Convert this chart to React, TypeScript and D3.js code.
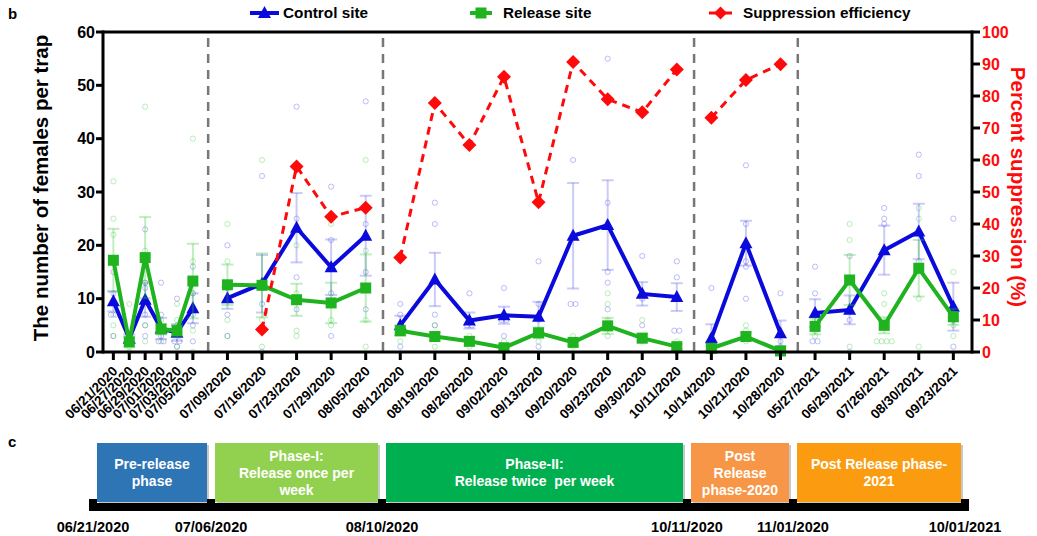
import React from "react";
import * as d3 from "d3";

// ---------- data ----------
const categories = [
  "06/21/2020", "06/27/2020", "06/29/2020", "07/01/2020", "07/03/2020", "07/05/2020",
  "07/09/2020", "07/16/2020", "07/23/2020", "07/29/2020", "08/05/2020",
  "08/12/2020", "08/19/2020", "08/26/2020", "09/02/2020", "09/13/2020", "09/20/2020",
  "09/23/2020", "09/30/2020", "10/11/2020",
  "10/14/2020", "10/21/2020", "10/28/2020",
  "05/27/2021", "06/29/2021", "07/26/2021", "08/30/2021", "09/23/2021",
];
// phase of each sampling date (0 pre-release, 1 phase-I, 2 phase-II, 3 post-2020, 4 post-2021)
const phaseOf = [0, 0, 0, 0, 0, 0, 1, 1, 1, 1, 1, 2, 2, 2, 2, 2, 2, 2, 2, 2, 3, 3, 3, 4, 4, 4, 4, 4];

const controlMean = [9.5, 2.5, 9.8, 4.4, 3.6, 8.2, 10.1, 12.8, 23.3, 15.9, 21.8, 5.0, 13.6, 5.9, 6.9, 6.6, 21.8, 23.8, 10.9, 10.3, 2.6, 20.4, 3.5, 7.3, 7.9, 19.1, 22.6, 8.5];
const controlSem = [1.9, 0.8, 3.2, 2.0, 1.5, 2.8, 2.0, 5.4, 6.5, 5.2, 7.5, 1.8, 5.0, 1.5, 1.6, 2.8, 9.9, 8.4, 2.2, 2.6, 2.6, 4.2, 2.4, 2.6, 2.7, 4.6, 5.2, 4.5];
const releaseMean = [17.2, 1.9, 17.7, 4.3, 4.0, 13.3, 12.6, 12.5, 9.8, 9.2, 12.0, 4.0, 2.9, 2.0, 0.8, 3.6, 1.8, 4.9, 2.6, 1.0, 0.7, 2.9, 0.2, 4.8, 13.5, 5.0, 15.7, 6.6];
const releaseSem = [5.9, 1.0, 7.6, 1.0, 1.2, 7.0, 3.8, 6.0, 3.0, 3.8, 6.3, 1.0, 0.8, 0.8, 0.5, 1.0, 0.6, 1.5, 0.8, 0.5, 0.4, 0.8, 0.2, 1.5, 4.7, 1.5, 5.3, 1.5];
const suppression: (number | null)[] = [
  null, null, null, null, null, null, null,
  7, 58, 42.3, 45.1,
  29.5, 77.8, 64.7, 86, 46.8, 90.6, 79, 74.9, 88.3,
  73.2, 85, 89.9,
  null, null, null, null, null,
];

const controlPoints = [
  [15, 11, 7, 7, 3], [3, 2, 2], [23, 13, 12, 7, 5, 3], [13, 7, 3, 2, 2], [10, 5, 2, 2, 1], [16, 11, 7, 5, 2],
  [20, 12, 7, 3], [33, 13, 9, 0], [46, 25, 14, 8], [31, 21, 11, 3], [47, 24, 15, 8],
  [9, 7, 1], [28, 24, 7, 5], [11, 5, 5], [12, 6, 6, 3], [17, 9, 1], [36, 9, 9], [55, 28, 15, 13, 8], [18, 10, 5], [17, 14, 4, 4],
  [12, 2, 1], [35, 24, 17, 16, 10], [11, 2],
  [16, 11, 2, 2], [18, 6, 0], [27, 25, 24], [37, 33, 17], [25, 6, 1],
];
const releasePoints = [
  [32, 25, 22, 7, 5, 3], [9, 1, 0], [46, 19, 13, 5, 2], [6, 4, 2], [9, 6, 1], [40, 17, 11, 4, 0],
  [24, 17, 6, 3], [36, 12, 6, 1], [20, 11, 4, 3], [24, 6, 5], [36, 19, 6, 1],
  [5, 4, 2], [5, 3, 1], [3, 2, 1], [2, 1, 0], [6, 4, 2], [3, 2, 1], [11, 9, 6, 3], [6, 3, 2], [2, 1, 0],
  [3, 1, 0], [5, 4, 2], [1, 0],
  [6, 4, 3], [24, 21, 13, 1], [11, 9, 2, 2, 2, 2], [27, 25, 10, 1], [15, 5, 3],
];

const leftTicks = [0, 10, 20, 30, 40, 50, 60];
const rightTicks = [0, 10, 20, 30, 40, 50, 60, 70, 80, 90, 100];

const timelineDates = ["06/21/2020", "07/06/2020", "08/10/2020", "10/11/2020", "11/01/2020", "10/01/2021"];
const phaseLabels = [
  ["Pre-release", "phase"],
  ["Phase-I:", "Release once per", "week"],
  ["Phase-II:", "Release twice  per week"],
  ["Post", "Release", "phase-2020"],
  ["Post Release phase-", "2021"],
];
const phaseColors = ["#2e75b6", "#92d050", "#00b050", "#f79646", "#fb9b10"];

// ---------- layout ----------
const W = 1037, H = 536;
const PL = 103, PR = 972, PT = 32, PB = 352;
const FONT = "'Liberation Sans', Arial, Helvetica, sans-serif";
const BLUE = "#0a0adc", GREEN = "#1fb41f", RED = "#ff0a0a";

// compressed slot for the dense pre-release sampling
const slot = (i: number) => (i < 6 ? i * 0.46 : 2.3 + (i - 5));

const x = d3.scaleLinear().domain([-0.3, 24.84]).range([PL, PR]);
const yL = d3.scaleLinear().domain([0, 60]).range([PB, PT]);
const yR = d3.scaleLinear().domain([0, 100]).range([PB, PT]);
const tl = d3.scaleLinear().domain([0, 1, 2, 3, 4, 5]).range([93, 211, 382, 687, 793, 965]);

const phases = [0, 1, 2, 3, 4];

function spread(vals: number[]) {
  const counts = new Map<number, number>();
  vals.forEach((v) => counts.set(v, (counts.get(v) || 0) + 1));
  const seen = new Map<number, number>();
  return vals.map((v) => {
    const n = counts.get(v)!;
    const k = seen.get(v) || 0;
    seen.set(v, k + 1);
    return { v, dx: (k - (n - 1) / 2) * 5 };
  });
}

function Series({ mean, sem, color, errColor, marker }: any) {
  const line = d3.line<number>().x((i) => x(slot(i))).y((i) => yL(mean[i]));
  return (
    <g>
      {categories.map((_, i) => {
        const cx = x(slot(i));
        const top = yL(mean[i] + sem[i]);
        const bot = yL(Math.max(0, mean[i] - sem[i]));
        return (
          <g key={"e" + i} stroke={errColor} strokeWidth={2} fill="none">
            <line x1={cx} x2={cx} y1={top} y2={bot} />
            <line x1={cx - 6} x2={cx + 6} y1={top} y2={top} />
            <line x1={cx - 6} x2={cx + 6} y1={bot} y2={bot} />
          </g>
        );
      })}
      {phases.map((p) => {
        const idx = categories.map((_, i) => i).filter((i) => phaseOf[i] === p);
        return <path key={"l" + p} d={line(idx) || ""} fill="none" stroke={color} strokeWidth={4} strokeLinejoin="miter" />;
      })}
      {categories.map((_, i) => {
        const cx = x(slot(i));
        const cy = yL(mean[i]);
        if (marker === "tri")
          return <path key={"m" + i} d={`M${cx},${cy - 7}L${cx + 6.5},${cy + 5}L${cx - 6.5},${cy + 5}Z`} fill={color} />;
        return <rect key={"m" + i} x={cx - 5.5} y={cy - 5.5} width={11} height={11} fill={color} />;
      })}
    </g>
  );
}

function Points({ data, color }: any) {
  return (
    <g fill="none" stroke={color} strokeWidth={1}>
      {data.map((vals: number[], i: number) =>
        spread(vals).map((p, k) => (
          <circle key={i + "-" + k} cx={x(slot(i)) + p.dx} cy={yL(p.v)} r={2.6} />
        ))
      )}
    </g>
  );
}

export default function App() {
  const sepX = [0, 1, 2, 3].map((p) => {
    const last = phaseOf.lastIndexOf(p);
    return x((slot(last) + slot(last + 1)) / 2);
  });
  const redLine = d3
    .line<number>()
    .x((i) => x(slot(i)))
    .y((i) => yR(suppression[i] as number));

  return (
    <svg width={W} height={H} style={{ position: "absolute", left: 0, top: 0, background: "#fff" }} fontFamily={FONT}>
      <text x={8} y={19} fontSize={15} fontWeight="bold">b</text>
      <text x={8} y={447} fontSize={15} fontWeight="bold">c</text>

      {/* legend */}
      <g fontSize={15.3} fontWeight="bold">
        <line x1={250} x2={279} y1={13} y2={13} stroke={BLUE} strokeWidth={4} />
        <path d="M264.5,6L271,18L258,18Z" fill={BLUE} />
        <text x={283} y={18}>Control site</text>
        <line x1={470} x2={492} y1={13} y2={13} stroke={GREEN} strokeWidth={4} />
        <rect x={475.5} y={7.5} width={11} height={11} fill={GREEN} />
        <text x={503} y={18}>Release site</text>
        <line x1={709} x2={732} y1={13} y2={13} stroke={RED} strokeWidth={3} />
        <path d="M720.5,6.5L727,13L720.5,19.5L714,13Z" fill={RED} />
        <text x={743} y={18}>Suppression efficiency</text>
      </g>

      {/* phase separators */}
      {sepX.map((sx, i) => (
        <line key={i} x1={i === 0 ? sx - 2 : sx} x2={i === 0 ? sx - 2 : sx} y1={38} y2={PB} stroke="#777" strokeWidth={2.5} strokeDasharray="9,7" />
      ))}

      <Points data={controlPoints} color="rgba(70,70,235,0.35)" />
      <Points data={releasePoints} color="rgba(40,200,40,0.32)" />

      <Series mean={controlMean} sem={controlSem} color={BLUE} errColor="rgba(70,70,230,0.28)" marker="tri" />
      <Series mean={releaseMean} sem={releaseSem} color={GREEN} errColor="rgba(40,200,40,0.3)" marker="sq" />

      {/* suppression */}
      {phases.map((p) => {
        const idx = categories.map((_, i) => i).filter((i) => phaseOf[i] === p && suppression[i] != null);
        if (idx.length < 1) return null;
        return <path key={p} d={redLine(idx) || ""} fill="none" stroke={RED} strokeWidth={3} strokeDasharray="8,6" />;
      })}
      {categories.map((_, i) => {
        const v = suppression[i];
        if (v == null) return null;
        const cx = x(slot(i)), cy = yR(v);
        return <path key={i} d={`M${cx},${cy - 7}L${cx + 7},${cy}L${cx},${cy + 7}L${cx - 7},${cy}Z`} fill={RED} />;
      })}

      {/* frame */}
      <g stroke="#000" strokeWidth={3} fill="none">
        <line x1={PL} x2={PR} y1={PT} y2={PT} />
        <line x1={PL} x2={PL} y1={PT - 1.5} y2={PB + 1.5} />
        <line x1={PR} x2={PR} y1={PT - 1.5} y2={PB + 1.5} />
        <line x1={PL} x2={PR} y1={PB} y2={PB} />
      </g>

      {/* left axis */}
      <g fontSize={16} fontWeight="bold">
        {leftTicks.map((t) => (
          <g key={t}>
            <line x1={PL - 7} x2={PL} y1={yL(t)} y2={yL(t)} stroke="#000" strokeWidth={3} />
            <text x={PL - 8} y={yL(t)} dy="0.36em" textAnchor="end">{t}</text>
          </g>
        ))}
      </g>
      {/* right axis */}
      <g fontSize={16} fontWeight="bold" fill={RED}>
        {rightTicks.map((t) => (
          <g key={t}>
            <line x1={PR} x2={PR + 8} y1={yR(t)} y2={yR(t)} stroke="#000" strokeWidth={3} />
            <text x={PR + 10} y={yR(t)} dy="0.36em">{t}</text>
          </g>
        ))}
      </g>
      {/* x axis */}
      <g fontSize={13.5} fontWeight="bold">
        {categories.map((c, i) => {
          const cx = x(slot(i));
          return (
            <g key={c + i}>
              <line x1={cx} x2={cx} y1={PB} y2={PB + 8} stroke="#000" strokeWidth={3} />
              <text transform={`translate(${cx + 5},${PB + 20}) rotate(-45)`} textAnchor="end">{c}</text>
            </g>
          );
        })}
      </g>

      <text transform={`translate(48,188) rotate(-90)`} textAnchor="middle" fontSize={20.5} fontWeight="bold">
        The number of females per trap
      </text>
      <text transform={`translate(1011,187) rotate(90)`} textAnchor="middle" fontSize={20.5} fontWeight="bold" fill={RED}>
        Percent suppression (%)
      </text>

      {/* timeline panel c */}
      {phaseLabels.map((lines, i) => {
        const x0 = tl(i) + 4, x1 = tl(i + 1) - 4;
        const cx = (x0 + x1) / 2;
        return (
          <g key={i}>
            <rect x={x0 + 2} y={445} width={x1 - x0} height={59} fill="#c8c8c8" />
            <rect x={x0} y={443} width={x1 - x0} height={59} fill={phaseColors[i]} />
            {lines.map((ln, k) => (
              <text key={k} x={cx} y={472.5 + (k - (lines.length - 1) / 2) * 17} dy="0.36em" textAnchor="middle"
                fill="#fff" fontSize={14} fontWeight="bold" style={{ whiteSpace: "pre" }}>
                {ln}
              </text>
            ))}
          </g>
        );
      })}
      <rect x={tl(0) - 4} y={503} width={tl(5) - tl(0) + 8} height={8} fill="#000" />
      {timelineDates.map((d, i) => (
        <g key={d}>
          <rect x={tl(i) - 4} y={499} width={8} height={12} fill="#000" />
          <text x={tl(i)} y={532} textAnchor="middle" fontSize={14.5} fontWeight="bold">{d}</text>
        </g>
      ))}
    </svg>
  );
}
